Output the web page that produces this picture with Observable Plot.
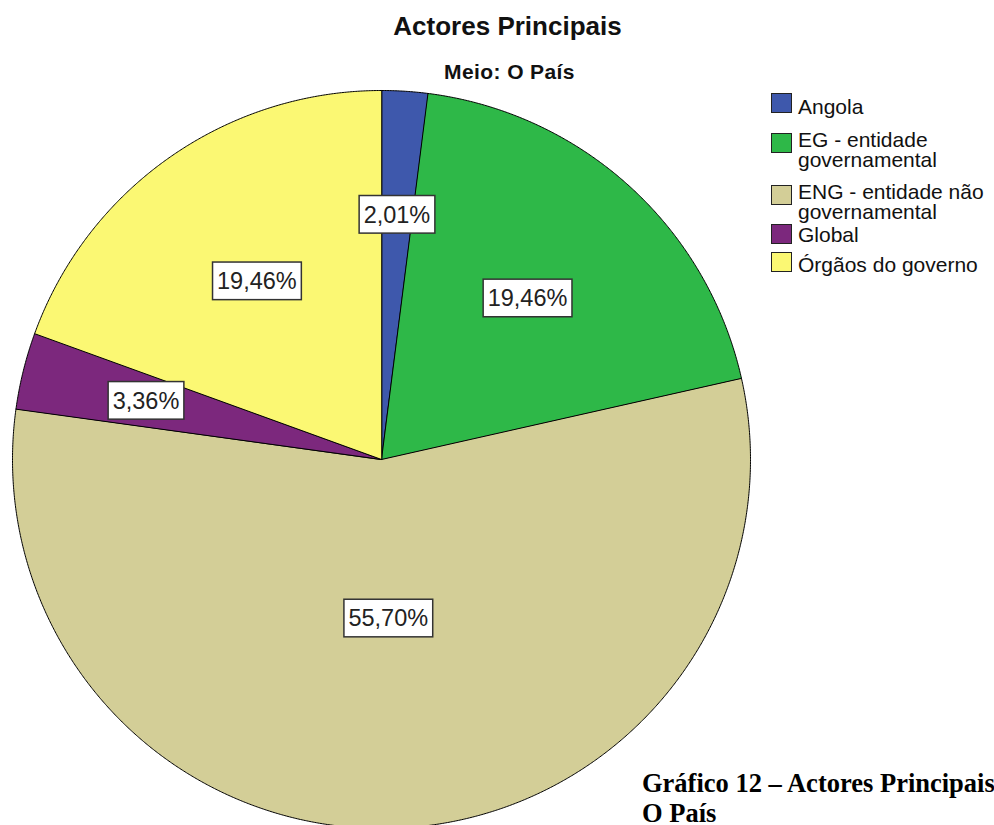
<!DOCTYPE html>
<html><head><meta charset="utf-8">
<script src="https://cdn.jsdelivr.net/npm/d3@7"></script>
<script src="https://cdn.jsdelivr.net/npm/@observablehq/plot@0.6"></script>
<style>
html,body{margin:0;padding:0;background:#fff;overflow:hidden;}
#wrap{position:relative;width:994px;height:825px;overflow:hidden;font-family:"Liberation Sans",Arial,sans-serif;color:#111;}
#chart{position:absolute;left:0;top:0;}
.title{position:absolute;left:0;width:1015px;text-align:center;font-weight:bold;font-size:26px;line-height:26px;top:13px;}
.subtitle{position:absolute;left:0;width:1019px;text-align:center;font-weight:bold;font-size:21px;line-height:21px;top:61px;letter-spacing:0.4px;}
.sw{position:absolute;left:771px;width:21px;height:20px;box-sizing:border-box;border:1.5px solid #222;}
.lt{position:absolute;left:798px;font-size:21px;line-height:19.5px;white-space:nowrap;}
.caption{position:absolute;left:642px;top:768px;font-family:"Liberation Serif","Times New Roman",serif;font-weight:bold;font-size:26.5px;line-height:30px;white-space:nowrap;color:#000;}
</style></head>
<body><div id="wrap">
<div id="chart"></div>
<div class="title">Actores Principais</div>
<div class="subtitle">Meio: O País</div>
<div id="legend"></div>
<div class="caption">Gráfico 12 – Actores Principais<br>O País</div>
</div>
<script>
// ---- data ----
const categories = ["Angola", "EG - entidade governamental", "ENG - entidade não governamental", "Global", "Órgãos do governo"];
const legendLines = [["Angola"], ["EG - entidade", "governamental"], ["ENG - entidade não", "governamental"], ["Global"], ["Órgãos do governo"]];
const values = [2.01, 19.46, 55.70, 3.36, 19.46];
const colors = ["#3E58AC", "#2EB848", "#D3CE97", "#7C287D", "#FBF873"];

// ---- layout ----
const R = 369, cx = 381, cy = 459;
const swatchTops = [93, 133, 185, 224, 252];
const textTops = [97, 130, 182, 225, 255];

const fmt = v => d3.format(".2f")(v).replace(".", ",") + "%";
const total = d3.sum(values);
let acc = 0;
const slices = values.map((v, i) => {
  const a0 = acc / total * 2 * Math.PI; acc += v;
  const a1 = acc / total * 2 * Math.PI;
  return {name: categories[i], a0, a1, f: v / total, label: fmt(v)};
});
const pts = [];
for (const s of slices) {
  pts.push({name: s.name, x: 0, y: 0});
  const n = Math.max(2, Math.ceil((s.a1 - s.a0) / (Math.PI / 720)));
  for (let k = 0; k <= n; k++) {
    const a = s.a0 + (s.a1 - s.a0) * k / n;
    pts.push({name: s.name, x: Math.sin(a), y: Math.cos(a)});
  }
}
const labelData = slices.map(s => {
  const m = (s.a0 + s.a1) / 2, rl = 0.672 - 0.43 * s.f;
  return {x: rl * Math.sin(m), y: rl * Math.cos(m), label: s.label};
});

const svg = Plot.plot({
  width: 994, height: 825, margin: 0,
  x: {domain: [-1, 1], range: [cx - R, cx + R], axis: null},
  y: {domain: [-1, 1], range: [cy + R, cy - R], axis: null},
  color: {domain: categories, range: colors},
  style: {background: "transparent", overflow: "visible"},
  marks: [
    Plot.line(pts, {x: "x", y: "y", z: "name", fill: "name", stroke: "#000", strokeWidth: 1, curve: "linear-closed", strokeLinejoin: "round"}),
    Plot.text(labelData, {x: "x", y: "y", text: "label", fontSize: 23.5, fontFamily: "Liberation Sans, Arial, sans-serif", fill: "#222"})
  ]
});
document.getElementById("chart").append(svg);

svg.querySelectorAll('g[aria-label="text"] text').forEach(t => {
  const b = t.getBBox();
  const r = document.createElementNS("http://www.w3.org/2000/svg", "rect");
  r.setAttribute("x", b.x - 4.5);
  r.setAttribute("width", b.width + 9);
  r.setAttribute("y", -19.7);
  r.setAttribute("height", 37.6);
  r.setAttribute("fill", "#fff");
  r.setAttribute("stroke", "#333");
  r.setAttribute("stroke-width", 1.5);
  const tr = t.getAttribute("transform");
  if (tr) r.setAttribute("transform", tr);
  else r.setAttribute("y", +t.getAttribute("y") - 19.7);
  t.parentNode.insertBefore(r, t);
});

const legend = document.getElementById("legend");
categories.forEach((c, i) => {
  const sw = document.createElement("div");
  sw.className = "sw"; sw.style.top = swatchTops[i] + "px"; sw.style.background = colors[i];
  legend.append(sw);
  const lt = document.createElement("div");
  lt.className = "lt"; lt.style.top = textTops[i] + "px";
  lt.innerHTML = legendLines[i].join("<br>");
  legend.append(lt);
});
</script>
</body></html>
